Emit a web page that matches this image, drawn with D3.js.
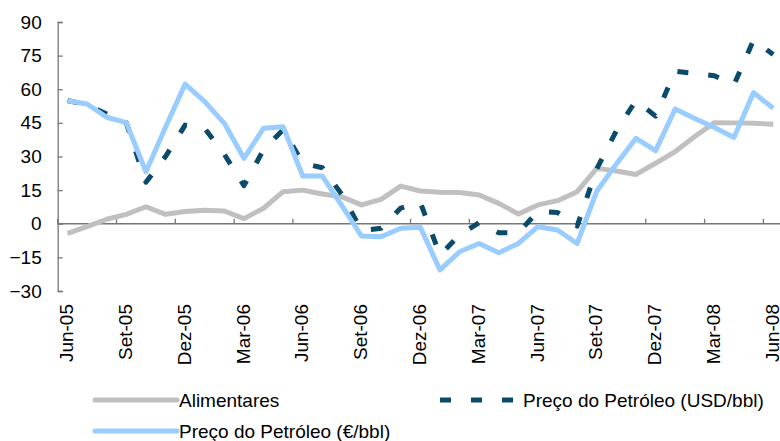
<!DOCTYPE html>
<html>
<head>
<meta charset="utf-8">
<script src="https://cdn.jsdelivr.net/npm/d3@7"></script>
<style>
  body { margin: 0; background: #fff; }
  svg { display: block; font-family: "Liberation Sans", Arial, sans-serif; }
</style>
</head>
<body>
<div id="chart"></div>
<script>
// Monthly categories, Jun-05 .. Jun-08
const monthNames = ['Jun', 'Jul', 'Ago', 'Set', 'Out', 'Nov', 'Dez', 'Jan', 'Fev', 'Mar', 'Abr', 'Mai'];
const months = d3.range(37).map(i => {
    const year = 5 + Math.floor((i + 5) / 12);
    return `${monthNames[i % 12]}-${String(year).padStart(2, '0')}`;
});

const alimentares = [-4.3, -1.3, 2, 4.2, 7.6, 4.2, 5.5, 6, 5.7, 2.3, 6.9, 14.3, 15, 13.3, 12, 8.4, 10.9, 16.8, 14.6, 14,
    13.9, 12.8, 9.1, 4.3, 8.4, 10.3, 14.3, 24.7, 23.5, 22, 27, 32.2, 38.9, 45.1, 45, 44.8, 44.4];
const petroleoUsd = [55, 53, 49, 45, 18.5, 30, 44, 42.5, 31, 17, 33, 42, 27, 25, 13, -3, -2, 7, 9.5, -14,
    -5, 0.5, -4, -4, 5.5, 5, -1, 24.5, 41.5, 55, 48, 68, 67, 66, 62, 82, 75.5];
const petroleoEur = [54.9, 53.4, 47.5, 45.1, 23.2, 43, 62.3, 54.5, 44.8, 29.2, 42.6, 43.3, 21.3, 21.3, 8, -5.5, -5.8, -2, -1.6, -20.6,
    -12.5, -8.8, -12.9, -8.8, -1.3, -2.8, -8.8, 14.5, 26.7, 38.1, 32.6, 51.2, 47, 42.9, 38.5, 58.5, 51.5];

const yTicks = [-30, -15, 0, 15, 30, 45, 60, 75, 90];

const series = [
    { name: 'Alimentares', values: alimentares, color: '#c0c0c0', width: 5, dash: null },
    { name: 'Preço do Petróleo (USD/bbl)', values: petroleoUsd, color: '#0a4a6a', width: 5, dash: '11,20' },
    { name: 'Preço do Petróleo (€/bbl)', values: petroleoEur, color: '#99ccff', width: 5, dash: null }
];

const width = 780, height = 441;

const svg = d3.select('#chart')
    .append('svg')
    .attr('width', width)
    .attr('height', height);

// Scales
const x = d3.scaleBand()
    .domain(months)
    .range([57.7, 783]);

const y = d3.scaleLinear()
    .domain([-30, 90])
    .range([291, 22]);

const cx = m => x(m) + x.bandwidth() / 2;

// Y axis (ticks pointing inside)
const yAxis = svg.append('g')
    .attr('transform', `translate(${x.range()[0]},0)`)
    .call(d3.axisRight(y).tickValues(yTicks).tickSize(5).tickFormat(d3.format('d')));
yAxis.select('.domain').attr('stroke', '#777').attr('stroke-width', 1.3);
yAxis.selectAll('.tick line').attr('stroke', '#777').attr('stroke-width', 1.3);
yAxis.selectAll('.tick text')
    .attr('x', -16)
    .attr('text-anchor', 'end')
    .attr('font-size', 19)
    .attr('fill', '#000');

// X axis at zero, ticks every 3 months on category boundaries
const labelled = months.filter((m, i) => i % 3 === 0);
const xAxis = svg.append('g')
    .attr('transform', `translate(0,${y(0)})`);
xAxis.append('line')
    .attr('x1', x.range()[0])
    .attr('x2', x.range()[1])
    .attr('stroke', '#777')
    .attr('stroke-width', 1.3);
xAxis.selectAll('.xtick')
    .data(labelled)
    .enter()
    .append('line')
    .attr('class', 'xtick')
    .attr('x1', d => x(d))
    .attr('x2', d => x(d))
    .attr('y1', 0)
    .attr('y2', -5)
    .attr('stroke', '#777')
    .attr('stroke-width', 1.3);

// Rotated month labels below the plot
svg.selectAll('.xlabel')
    .data(labelled)
    .enter()
    .append('text')
    .attr('class', 'xlabel')
    .attr('transform', d => `translate(${cx(d) - 1},304) rotate(-90)`)
    .attr('text-anchor', 'end')
    .attr('dy', '0.35em')
    .attr('font-size', 19)
    .text(d => d);

// Lines
const line = d3.line()
    .x((d, i) => cx(months[i]))
    .y(d => y(d));

svg.selectAll('.series')
    .data(series)
    .enter()
    .append('path')
    .attr('class', 'series')
    .attr('d', d => line(d.values))
    .attr('fill', 'none')
    .attr('stroke', d => d.color)
    .attr('stroke-width', d => d.width)
    .attr('stroke-dasharray', d => d.dash)
    .attr('stroke-linejoin', 'round');

// Legend
const legendPos = [
    { x: 95, y: 400 },
    { x: 440, y: 400 },
    { x: 95, y: 431 }
];
const legend = svg.selectAll('.legend')
    .data(series)
    .enter()
    .append('g')
    .attr('class', 'legend')
    .attr('transform', (d, i) => `translate(${legendPos[i].x},${legendPos[i].y})`);

legend.append('line')
    .attr('x1', 0)
    .attr('x2', 82)
    .attr('stroke', d => d.color)
    .attr('stroke-width', d => d.width)
    .attr('stroke-dasharray', d => d.dash)
    .attr('stroke-linecap', d => d.dash ? 'butt' : 'round');

legend.append('text')
    .attr('x', d => d.dash ? 83 : 84)
    .attr('dy', '0.35em')
    .attr('font-size', 19)
    .text(d => d.name);
</script>
</body>
</html>
